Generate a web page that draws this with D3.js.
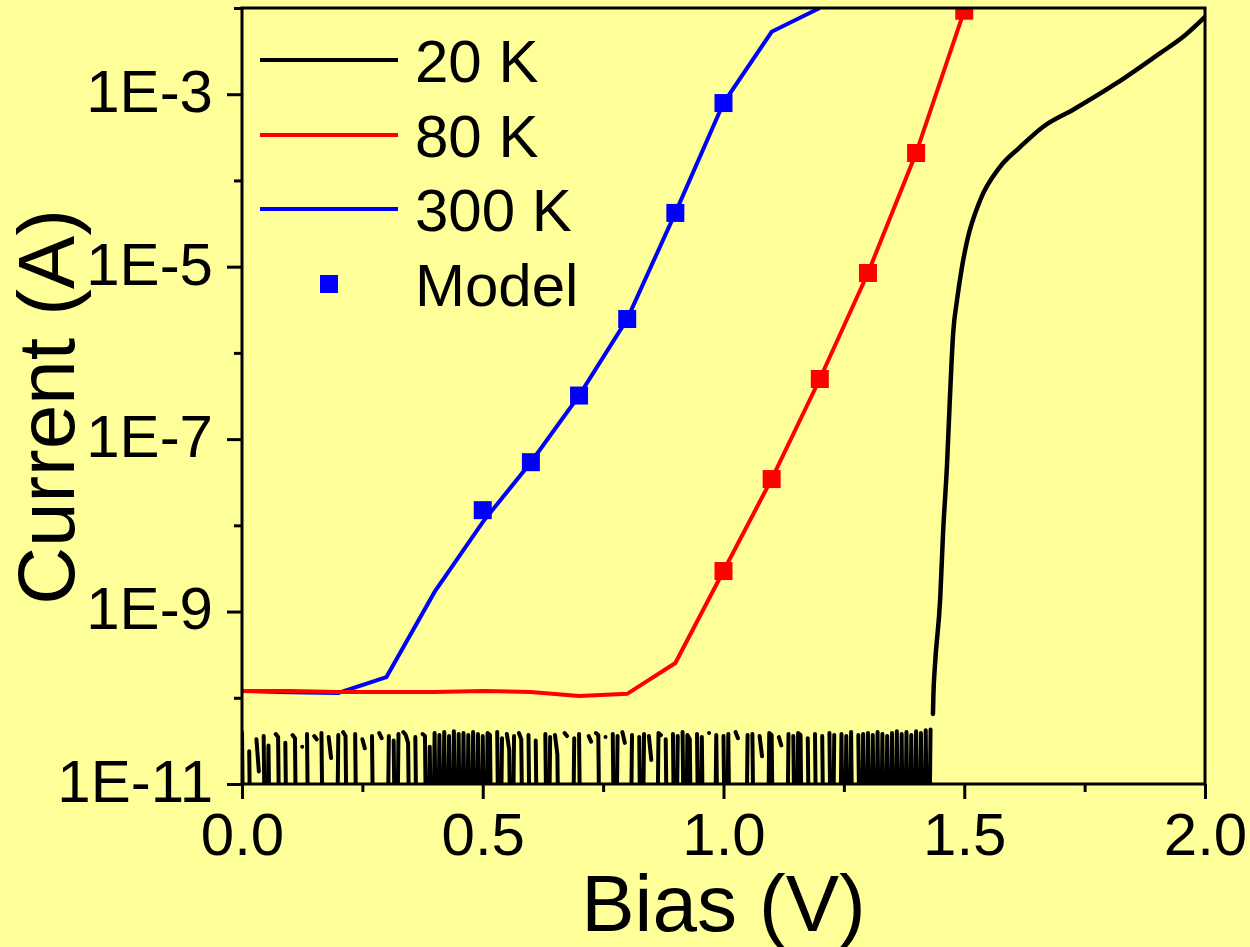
<!DOCTYPE html>
<html>
<head>
<meta charset="utf-8">
<script src="https://cdn.jsdelivr.net/npm/d3@7"></script>
<style>
  html, body { margin: 0; padding: 0; background: #FFFF99; }
  svg { display: block; }
  text { font-family: "Liberation Sans", Arial, sans-serif; fill: #000; }
</style>
</head>
<body>
<svg id="chart" width="1250" height="947"></svg>
<script>
// ---- data ----
// Bias sweep of the 20 K measurement floor: start and step (V), currents in pA (null = no valid reading)
const sweep20Start = 0.0;
const sweep20Step = 0.005;
const floor20pA = [
  40, 0.1, null, 24, 0.1, null, 33, 14, null, 36, 0.1, 28, 0.1, null, 38, 35, 0.1, null, 30, 0.1,
  null, 37, 34, 0.1, null, 27, null, 38, 0.1, null, 36, 33, null, 39, 0.1, null, 35, 20, null, 0.1,
  37, null, 40, 36, 0.1, null, null, 38, 0.1, null, 33, 26, null, null, 36, 0.1, null, 39, 34, null,
  0.1, 36, null, 32, 0.1, 38, null, 40, 37, 30, 0.1, null, 35, 0.1, null, 38, 36, 0.1, 27, 0.1,
  39, 0.1, 37, 0.1, 40, 0.1, 36, 0.1, 41, 0.1, 38, 0.1, 39, 0.1, 37, 0.1, 40, 0.1, 38, 0.1,
  36, 0.1, 39, 37, 0.1, null, 40, 0.1, 34, null, 38, 25, 0.1, 36, null, 39, 33, 0.1, null, 37,
  0.1, null, 32, 0.1, null, null, 38, 0.1, 35, null, 37, 22, 0.1, null, 39, 36, null, 0.1, 34, null,
  38, 0.1, null, null, 36, 31, null, 39, 37, 0.1, null, 35, null, null, 38, 0.1, 36, null, 40, 30,
  null, 0.1, 37, null, null, 35, 0.1, 38, null, 36, 19, null, 0.1, 39, 37, null, 33, 0.1, null, 38,
  0.1, 36, null, 40, 0.1, 37, 33, 0.1, null, 38, 0.1, 35, 0.1, null, 39, null, 0.1, 37, 0.1, null,
  36, 0.1, 38, 0.1, null, 40, 34, null, null, 0.1, 37, null, 38, 0.1, null, 36, 21, null, 0.1, 39,
  37, 0.1, null, 35, 28, null, 0.1, 38, null, 36, 0.1, 39, 37, 0.1, null, 34, 0.1, null, 38, 0.1,
  null, 36, 0.1, null, 39, 0.1, 37, null, 0.1, 38, 0.1, 36, 0.1, 40, 0.1, null, 37, 0.1, 38, 0.1,
  39, 0.1, 37, 0.1, 40, 0.1, 38, 0.1, 36, 0.1, 39, 0.1, 41, 0.1, 38, 0.1, 40, 0.1, 37, 0.1,
  41, 0.1, 39, 0.1, 42, 0.1, 43
];

// 20 K turn-on branch
const bias20On = [1.435, 1.436, 1.439, 1.450, 1.456, 1.464, 1.470, 1.477, 1.485, 1.495, 1.506, 1.533, 1.574, 1.616, 1.664, 1.726, 1.817, 1.907, 1.954, 2.000];
const current20On = [6.5e-11, 1.1e-10, 2.3e-10, 1.4e-9, 8.2e-9, 4.8e-8, 2.8e-7, 1.7e-6, 4.1e-6, 9.7e-6, 2.0e-5, 5.9e-5, 1.43e-4, 2.44e-4, 4.2e-4, 6.6e-4, 1.35e-3, 3.0e-3, 4.6e-3, 7.9e-3];

// 80 K measurement
const bias80 = [0.0, 0.1, 0.2, 0.3, 0.4, 0.5, 0.6, 0.7, 0.8, 0.9, 1.0, 1.1, 1.2, 1.3, 1.4, 1.5];
const current80 = [1.2e-10, 1.2e-10, 1.17e-10, 1.17e-10, 1.17e-10, 1.2e-10, 1.17e-10, 1.05e-10, 1.11e-10, 2.53e-10, 2.95e-9, 3.44e-8, 4.98e-7, 8.45e-6, 2.08e-4, 9.3e-3];

// 300 K measurement
const bias300 = [0.0, 0.1, 0.2, 0.3, 0.4, 0.5, 0.6, 0.7, 0.8, 0.9, 1.0, 1.1, 1.2];
const current300 = [1.2e-10, 1.16e-10, 1.14e-10, 1.74e-10, 1.69e-9, 1.09e-8, 5.4e-8, 3.2e-7, 2.47e-6, 4.2e-5, 7.9e-4, 5.3e-3, 1.0e-2];

// Model points
const biasModel80 = [1.0, 1.1, 1.2, 1.3, 1.4, 1.5];
const currentModel80 = [2.95e-9, 3.44e-8, 4.98e-7, 8.45e-6, 2.08e-4, 9.3e-3];
const biasModel300 = [0.5, 0.6, 0.7, 0.8, 0.9, 1.0];
const currentModel300 = [1.5e-8, 5.4e-8, 3.2e-7, 2.47e-6, 4.2e-5, 7.9e-4];

// Axis ticks
const xMajor = [0.0, 0.5, 1.0, 1.5, 2.0];
const xMinor = [0.25, 0.75, 1.25, 1.75];
const yMajor = [1e-11, 1e-9, 1e-7, 1e-5, 1e-3];
const yMajorLabels = ["1E-11", "1E-9", "1E-7", "1E-5", "1E-3"];
const yMinor = [1e-10, 1e-8, 1e-6, 1e-4, 1e-2];

const legendLabels = ["20 K", "80 K", "300 K", "Model"];
const colors = { k20: "#000000", k80: "#FF0000", k300: "#0000FF" };

// ---- layout ----
const svg = d3.select("#chart");
const W = 1250, H = 947;
const plot = { left: 242, right: 1205, top: 8, bottom: 784 };

svg.append("rect").attr("width", W).attr("height", H).attr("fill", "#FFFF99");

const x = d3.scaleLinear().domain([0, 2]).range([plot.left, plot.right]);
const y = d3.scaleLog().domain([1e-11, 1e-2]).range([plot.bottom, plot.top]);

svg.append("clipPath").attr("id", "plotClip")
  .append("rect")
  .attr("x", plot.left).attr("y", plot.top)
  .attr("width", plot.right - plot.left).attr("height", plot.bottom - plot.top);

const dataLayer = svg.append("g").attr("clip-path", "url(#plotClip)");

const line = d3.line()
  .defined(d => d[1] != null)
  .x(d => x(d[0]))
  .y(d => y(d[1]));

// 20 K floor (noisy region)
const floor20 = floor20pA.map((v, i) => [sweep20Start + i * sweep20Step, v == null ? null : v * 1e-12]);
dataLayer.append("path")
  .datum(floor20)
  .attr("d", line)
  .attr("fill", "none")
  .attr("stroke", colors.k20)
  .attr("stroke-width", 4)
  .attr("stroke-linejoin", "round")
  .attr("stroke-linecap", "round");

// 20 K turn-on
const on20 = bias20On.map((b, i) => [b, current20On[i]]);
dataLayer.append("path")
  .datum(on20)
  .attr("d", d3.line().x(d => x(d[0])).y(d => y(d[1])).curve(d3.curveMonotoneX))
  .attr("fill", "none")
  .attr("stroke", colors.k20)
  .attr("stroke-width", 4.5)
  .attr("stroke-linejoin", "round")
  .attr("stroke-linecap", "round");

// 300 K
dataLayer.append("path")
  .datum(bias300.map((b, i) => [b, current300[i]]))
  .attr("d", line)
  .attr("fill", "none")
  .attr("stroke", colors.k300)
  .attr("stroke-width", 4);

// 80 K
dataLayer.append("path")
  .datum(bias80.map((b, i) => [b, current80[i]]))
  .attr("d", line)
  .attr("fill", "none")
  .attr("stroke", colors.k80)
  .attr("stroke-width", 4);

// Model squares
const sq = 18;
dataLayer.selectAll("rect.m300")
  .data(biasModel300.map((b, i) => [b, currentModel300[i]]))
  .join("rect").attr("class", "m300")
  .attr("x", d => x(d[0]) - sq / 2).attr("y", d => y(d[1]) - sq / 2)
  .attr("width", sq).attr("height", sq)
  .attr("fill", colors.k300);

dataLayer.selectAll("rect.m80")
  .data(biasModel80.map((b, i) => [b, currentModel80[i]]))
  .join("rect").attr("class", "m80")
  .attr("x", d => x(d[0]) - sq / 2).attr("y", d => y(d[1]) - sq / 2)
  .attr("width", sq).attr("height", sq)
  .attr("fill", colors.k80);

// ---- axes ----
const tickFont = 60;
function styleAxis(g) {
  g.select(".domain").remove();
  g.selectAll(".tick line").attr("stroke", "#000").attr("stroke-width", 3);
  g.selectAll(".tick text").attr("font-size", tickFont).attr("fill", "#000")
    .attr("font-family", "'Liberation Sans', Arial, sans-serif");
}

// x major
svg.append("g")
  .attr("transform", `translate(0,${plot.bottom})`)
  .call(d3.axisBottom(x).tickValues(xMajor).tickFormat(d3.format(".1f")).tickSize(15).tickPadding(13))
  .call(styleAxis);
// x minor
svg.append("g")
  .attr("transform", `translate(0,${plot.bottom})`)
  .call(d3.axisBottom(x).tickValues(xMinor).tickFormat("").tickSize(8))
  .call(styleAxis);

// y major
svg.append("g")
  .attr("transform", `translate(${plot.left},0)`)
  .call(d3.axisLeft(y).tickValues(yMajor).tickFormat((d, i) => yMajorLabels[i]).tickSize(15).tickPadding(14))
  .call(styleAxis)
  .call(g => g.selectAll(".tick text").attr("dy", "0.29em"));
// y minor
svg.append("g")
  .attr("transform", `translate(${plot.left},0)`)
  .call(d3.axisLeft(y).tickValues(yMinor).tickFormat("").tickSize(8))
  .call(styleAxis);

// frame
svg.append("rect")
  .attr("x", plot.left).attr("y", plot.top)
  .attr("width", plot.right - plot.left).attr("height", plot.bottom - plot.top)
  .attr("fill", "none").attr("stroke", "#000").attr("stroke-width", 3);

// axis titles
svg.append("text")
  .attr("x", (plot.left + plot.right) / 2).attr("y", 931)
  .attr("text-anchor", "middle").attr("font-size", 80)
  .text("Bias (V)");

svg.append("text")
  .attr("transform", `translate(74,407) rotate(-90)`)
  .attr("text-anchor", "middle").attr("font-size", 80)
  .text("Current (A)");

// ---- legend ----
const legendRows = [60, 135, 209, 284];
const legendKinds = [
  { type: "line", color: colors.k20 },
  { type: "line", color: colors.k80 },
  { type: "line", color: colors.k300 },
  { type: "square", color: colors.k300 }
];
const legend = svg.append("g");
legendKinds.forEach((k, i) => {
  const ly = legendRows[i];
  if (k.type === "line") {
    legend.append("line")
      .attr("x1", 260).attr("x2", 398).attr("y1", ly).attr("y2", ly)
      .attr("stroke", k.color).attr("stroke-width", 4);
  } else {
    legend.append("rect")
      .attr("x", 329 - sq / 2).attr("y", ly - sq / 2)
      .attr("width", sq).attr("height", sq).attr("fill", k.color);
  }
  legend.append("text")
    .attr("x", 415).attr("y", ly + 22)
    .attr("font-size", 60)
    .text(legendLabels[i]);
});
</script>
</body>
</html>
